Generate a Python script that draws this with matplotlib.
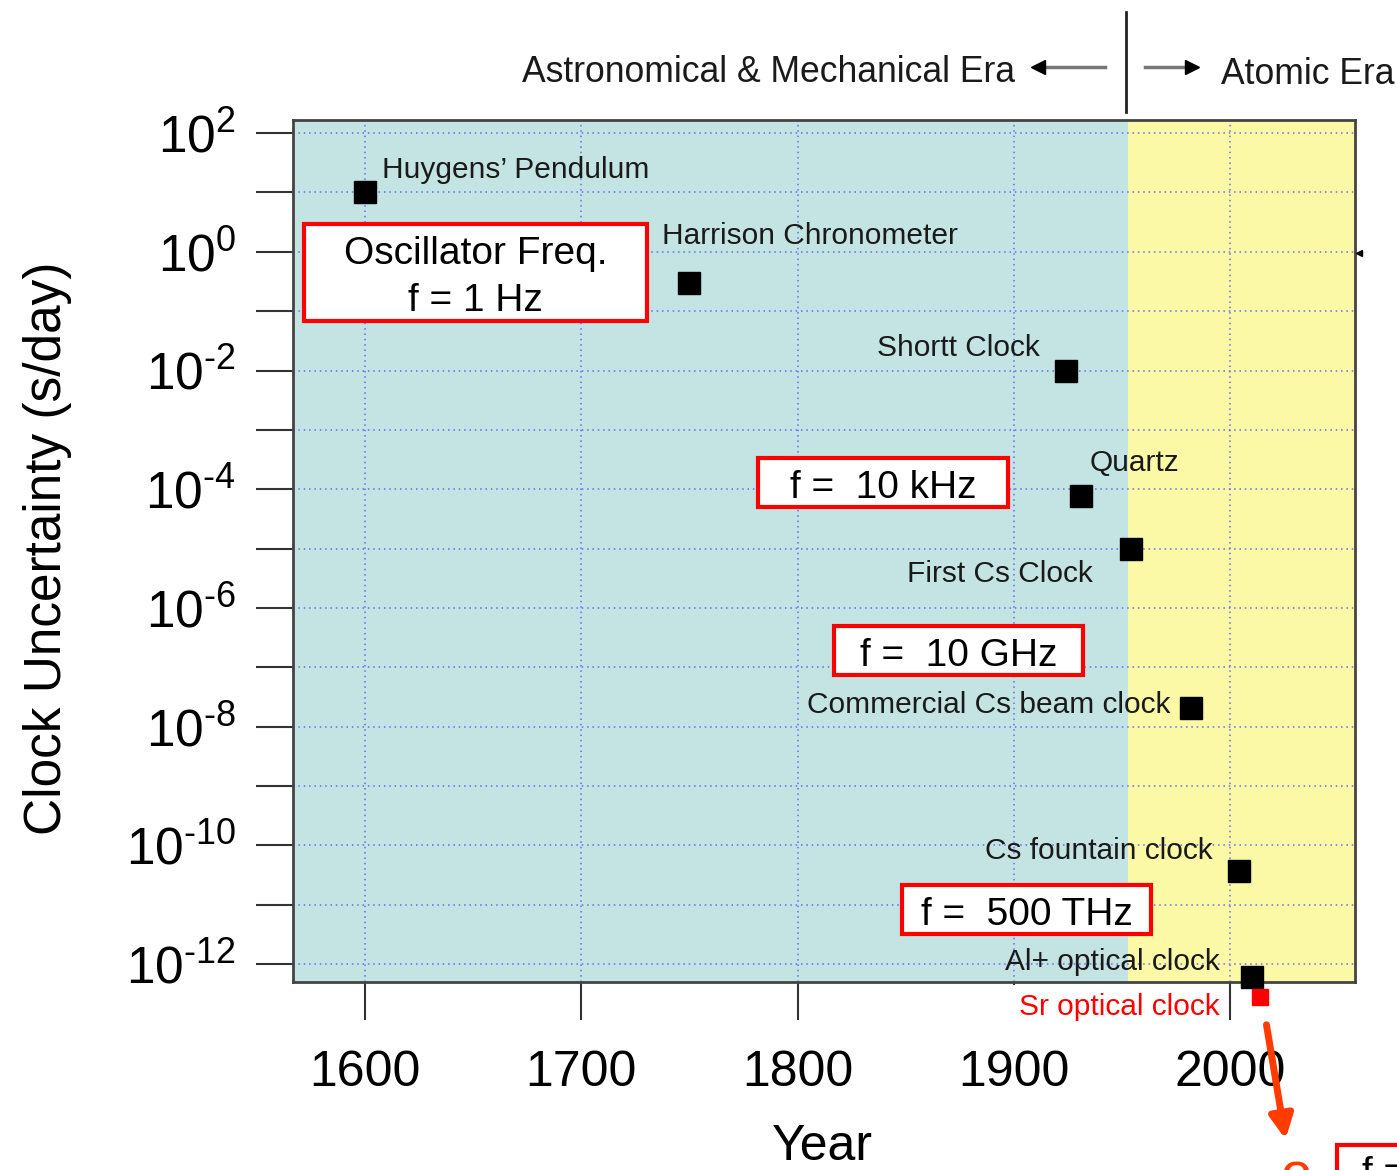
#!/usr/bin/env python3
# Clock uncertainty through history, log scale, two eras shaded.
import math
import matplotlib
matplotlib.use('Agg')
import matplotlib.pyplot as plt
from matplotlib.patches import Rectangle, FancyArrowPatch
from matplotlib.lines import Line2D
from matplotlib.ticker import FixedLocator, FuncFormatter

plt.rcParams['font.family'] = ['Liberation Sans', 'DejaVu Sans']
plt.rcParams['mathtext.fontset'] = 'custom'
plt.rcParams['mathtext.rm'] = 'Liberation Sans'
plt.rcParams['mathtext.it'] = 'Liberation Sans'

# data
clocks = ["Huygens\u2019 Pendulum", "Harrison Chronometer", "Shortt Clock", "Quartz",
          "First Cs Clock", "Commercial Cs beam clock", "Cs fountain clock",
          "Al+ optical clock", "Sr optical clock"]
years = [1600, 1750, 1924, 1931, 1954, 1982, 2004, 2010, 2014]
uncertainty = [10, 0.3, 1e-2, 7.6e-5, 1e-5, 2.1e-8, 3.7e-11, 6e-13, 2.8e-13]
atomic_start = 1953
year_ticks = [1600, 1700, 1800, 1900, 2000]
decades = list(range(2, -13, -1))
freq_boxes = ["Oscillator Freq.\nf = 1 Hz", "f =  10 kHz", "f =  10 GHz", "f =  500 THz"]

W, H = 1397, 1170
fig = plt.figure(figsize=(W / 100, H / 100), dpi=100)


def fx(px):
    return px / W


def fy(py):
    return 1 - py / H


def decade_label(v, pos):
    d = round(math.log10(v))
    if d % 2:
        return ''
    return r'$10^{%s}$' % str(d).replace('-', '\u2010')


ax = fig.add_axes([fx(293), fy(982), fx(1355) - fx(293), fy(120) - fy(982)])
ax.set_yscale('log')
xmin, xmax = 1566.7, 2057.8
ax.set_xlim(xmin, xmax)
ax.set_ylim(10 ** -12.3, 10 ** 2.22)

ax.axvspan(xmin, atomic_start, color='#c3e4e3', zorder=0, lw=0)
ax.axvspan(atomic_start, xmax, color='#fcf9a6', zorder=0, lw=0)

# ticks and grid
ax.yaxis.set_major_locator(FixedLocator([10.0 ** d for d in decades]))
ax.yaxis.set_minor_locator(FixedLocator([]))
ax.yaxis.set_major_formatter(FuncFormatter(decade_label))
ax.set_xticks(year_ticks)
ax.tick_params(axis='y', which='major', length=27, width=1.5, pad=14,
               labelsize=37, color='#333333', direction='out')
ax.tick_params(axis='x', which='major', length=27, width=1.5, pad=22,
               labelsize=36, color='#333333', direction='out')
ax.grid(True, which='major', color='#6a6af0', linestyle=(0, (1, 2.5)), lw=1.1)
ax.set_axisbelow(True)
for s in ax.spines.values():
    s.set_color('#444444')
    s.set_linewidth(2)

ax.set_ylabel('Clock Uncertainty (s/day)', fontsize=37)
ax.yaxis.set_label_coords(-0.208, 0.5035)
ax.set_xlabel('Year', fontsize=36)
ax.xaxis.set_label_coords(0.498, -0.165)

# markers
ax.plot(years[:-1], uncertainty[:-1], 's', color='black', ms=16, zorder=5,
        clip_on=False, linestyle='none')
ax.plot(years[-1:], uncertainty[-1:], 's', color='#ff0000', ms=12, zorder=5,
        clip_on=False, linestyle='none')

# point labels (x, log10 y, ha)
label_pos = [(1607.9, 1.38, 'left'), (1737.3, 0.27, 'left'), (1912.0, -1.62, 'right'),
             (1935.2, -3.55, 'left'), (1936.6, -5.42, 'right'), (1972.2, -7.63, 'right'),
             (1992.0, -10.1, 'right'), (1995.3, -11.97, 'right'), (1995.3, -12.72, 'right')]
for name, (lx, ly, ha) in zip(clocks, label_pos):
    red = name.startswith('Sr')
    ax.text(lx, 10 ** ly, name, ha=ha, va='center', fontsize=21.5,
            color='#ff0000' if red else '#1a1a1a', clip_on=False, zorder=6,
            bbox=dict(facecolor='white', edgecolor='none', pad=6) if red else None)

# red frequency boxes (axes fraction)
box_pos = [(0.0104, 0.7668, 0.3333, 0.8794), (0.4379, 0.5510, 0.6733, 0.6079),
           (0.5094, 0.3561, 0.7439, 0.4130), (0.5734, 0.0557, 0.8079, 0.1125)]
for txt, (x0, y0, x1, y1) in zip(freq_boxes, box_pos):
    ax.add_patch(Rectangle((x0, y0), x1 - x0, y1 - y0, transform=ax.transAxes,
                           facecolor='white', edgecolor='#ff0000', lw=3, zorder=7))
    ax.text((x0 + x1) / 2, (y0 + y1) / 2 - 0.006, txt, transform=ax.transAxes,
            ha='center', va='center', fontsize=28, zorder=8, linespacing=1.38)

# era header
fig.text(fx(1015), fy(73), 'Astronomical & Mechanical Era', ha='right', va='center',
         fontsize=25.6, color='#1a1a1a')
fig.text(fx(1221), fy(75), 'Atomic Era', ha='left', va='center', fontsize=25.6,
         color='#1a1a1a')
fig.add_artist(Line2D([fx(1126), fx(1126)], [fy(12), fy(112)], color='#222222', lw=2))
fig.add_artist(Line2D([fx(1040), fx(1105)], [fy(67), fy(67)], color='#777777', lw=2.5))
fig.add_artist(Line2D([fx(1038)], [fy(67)], marker='<', color='black', ms=10, lw=0))
fig.add_artist(Line2D([fx(1145), fx(1190)], [fy(67), fy(67)], color='#777777', lw=2.5))
fig.add_artist(Line2D([fx(1192)], [fy(67)], marker='>', color='black', ms=10, lw=0))
fig.add_artist(Line2D([fx(1359)], [fy(253)], marker='<', color='black', ms=5, lw=0))

# cut-off pieces at the bottom right
fig.add_artist(FancyArrowPatch((fx(1266), fy(1022)), (fx(1286), fy(1142)),
                               transform=fig.transFigure, arrowstyle='-|>',
                               mutation_scale=35, color='#ff3b00', lw=5))
fig.text(fx(1296), fy(1152), 'o', ha='center', va='top', fontsize=40, color='#ff3b00')
fig.add_artist(Rectangle((fx(1337), fy(1200)), fx(120), fy(1145) - fy(1200),
                         transform=fig.transFigure, facecolor='white',
                         edgecolor='#ff0000', lw=3))
fig.text(fx(1362), fy(1156), 'f =', ha='left', va='top', fontsize=28)

fig.savefig('out.png', dpi=100)
